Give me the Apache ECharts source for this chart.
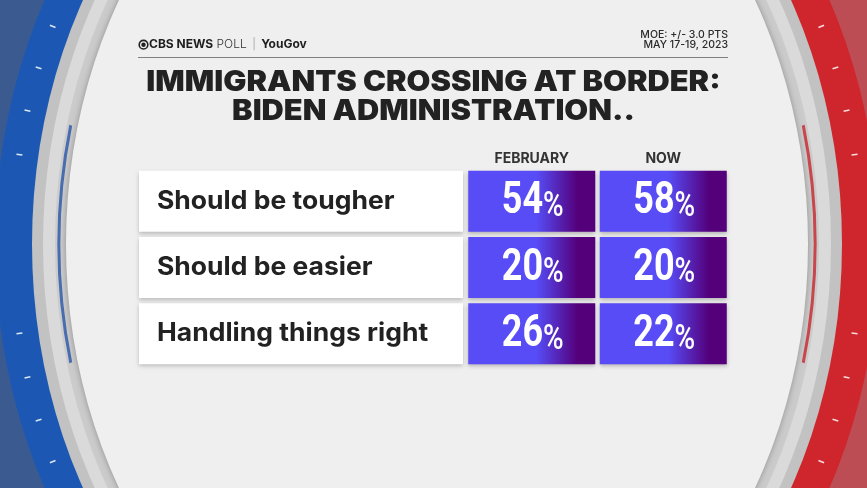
<!DOCTYPE html>
<html>
<head>
<meta charset="utf-8">
<script src="https://cdn.jsdelivr.net/npm/echarts@6/dist/echarts.min.js"></script>
<style>
  html, body { margin: 0; padding: 0; background: #efefef; }
  #chart { width: 867px; height: 488px; }
</style>
</head>
<body>
<div id="chart"></div>
<script>
// poll rows and columns
const rowLabels = ['Should be tougher', 'Should be easier', 'Handling things right']
const columnLabels = ['FEBRUARY', 'NOW']
const februaryValues = [54, 20, 26]
const nowValues = [58, 20, 22]

const chart = echarts.init(document.getElementById('chart'))

// background ring (the CBS studio frame)
const cx = 437
const cy = 244

function oval (r, ratio, style) {
  return {
    type: 'circle',
    x: cx,
    y: cy,
    scaleY: ratio,
    shape: { cx: 0, cy: 0, r: r },
    style: style,
    silent: true
  }
}

function splitFill (left, right) {
  return {
    type: 'linear', x: 0, y: 0, x2: 1, y2: 0,
    colorStops: [
      { offset: 0, color: left }, { offset: 0.5, color: left },
      { offset: 0.5, color: right }, { offset: 1, color: right }
    ]
  }
}

const ticks = []
const tickAngles = [-25, -20, -15, -10, 10, 15, 20, 25]
tickAngles.forEach(function (deg) {
  [180, 0].forEach(function (base) {
    const t = (base + (base === 180 ? -deg : deg)) * Math.PI / 180
    const a = 424
    const b = 515
    const x = cx + a * Math.cos(t)
    const y = cy + b * Math.sin(t)
    const nx = Math.cos(t)
    const ny = Math.sin(t) * a / b
    const len = Math.sqrt(nx * nx + ny * ny)
    ticks.push({
      type: 'line',
      silent: true,
      shape: { x1: x - 3 * nx / len, y1: y - 3 * ny / len, x2: x + 3 * nx / len, y2: y + 3 * ny / len },
      style: { stroke: 'rgba(255,255,255,0.85)', lineWidth: 1.5 }
    })
  })
})

const background = [
  {
    type: 'rect',
    silent: true,
    shape: { x: 0, y: 0, width: 867, height: 488 },
    style: { fill: splitFill('#3a5a90', '#bd4d54') }
  },
  oval(442, 1.2, { fill: splitFill('#1c58b3', '#cf252c') }),
  oval(405, 1.24, { fill: '#c2c2c2' }),
  oval(394, 1.25, { fill: '#dadada' }),
  oval(382, 1.26, { fill: '#cbcbcb' }),
  {
    type: 'arc',
    x: cx,
    y: cy,
    scaleY: 1.27,
    silent: true,
    shape: { cx: 0, cy: 0, r: 378, startAngle: Math.PI - 0.25, endAngle: Math.PI + 0.25 },
    style: { stroke: '#4a6db0', lineWidth: 3, fill: null }
  },
  {
    type: 'arc',
    x: cx,
    y: cy,
    scaleY: 1.27,
    silent: true,
    shape: { cx: 0, cy: 0, r: 378, startAngle: -0.25, endAngle: 0.25 },
    style: { stroke: '#c9474d', lineWidth: 3, fill: null }
  },
  oval(371, 1.277, { fill: '#efefef', shadowBlur: 6, shadowColor: 'rgba(0,0,0,0.3)' })
].concat(ticks)

// header: logo, rule, MOE, headline
const header = [
  {
    type: 'circle',
    silent: true,
    shape: { cx: 143.5, cy: 44.7, r: 4.3 },
    style: { fill: null, stroke: '#222', lineWidth: 1.6 }
  },
  {
    type: 'circle',
    silent: true,
    shape: { cx: 143.5, cy: 44.7, r: 2.2 },
    style: { fill: '#222' }
  },
  {
    type: 'text',
    silent: true,
    x: 149,
    y: 44.7,
    style: {
      text: '{a|CBS NEWS} {b|POLL} {c||} {a|YouGov}',
      verticalAlign: 'middle',
      font: '12px Inter',
      fill: '#222',
      rich: {
        a: { fontFamily: 'Inter', fontSize: 12, fontWeight: 'bold', fill: '#1e1e1e' },
        b: { fontFamily: 'Inter', fontSize: 12, fontWeight: 300, fill: '#333' },
        c: { fontFamily: 'Inter', fontSize: 11, fill: '#aaa', padding: [0, 2, 0, 2] }
      }
    }
  },
  {
    type: 'text',
    silent: true,
    x: 728,
    y: 40,
    style: {
      text: 'MOE: +/- 3.0 PTS\nMAY 17-19, 2023',
      align: 'right',
      verticalAlign: 'middle',
      font: '500 10.5px Inter',
      lineHeight: 9.5,
      fill: '#2a2a2a'
    }
  },
  {
    type: 'line',
    silent: true,
    shape: { x1: 138, y1: 57.5, x2: 728, y2: 57.5 },
    style: { stroke: '#808080', lineWidth: 1 }
  },
  {
    type: 'text',
    silent: true,
    x: 433.5,
    y: 68,
    scaleX: 1.1,
    style: {
      text: 'IMMIGRANTS CROSSING AT BORDER:\nBIDEN ADMINISTRATION..',
      align: 'center',
      verticalAlign: 'top',
      font: '900 28px Inter',
      lineHeight: 29,
      fill: '#222'
    }
  }
]

const cellFill = {
  type: 'linear', x: 0, y: 0, x2: 1, y2: 0,
  colorStops: [
    { offset: 0, color: '#574cf6' },
    { offset: 0.54, color: '#574cf6' },
    { offset: 0.86, color: '#54007b' },
    { offset: 1, color: '#54007b' }
  ]
}

function renderCell (params, api) {
  const center = api.coord([api.value(0), api.value(1)])
  const size = api.size([1, 1])
  const w = size[0] - 4.5
  const h = size[1] - 5.3
  return {
    type: 'group',
    children: [{
      type: 'rect',
      shape: { x: center[0] - w / 2, y: center[1] - h / 2, width: w, height: h },
      style: { fill: cellFill, shadowBlur: 4, shadowOffsetY: 2, shadowColor: 'rgba(0,0,0,0.25)' }
    }, {
      type: 'text',
      x: center[0] + 1,
      y: center[1] + 1,
      scaleX: 0.8,
      style: {
        text: '{n|' + api.value(2) + '}{p|%}',
        align: 'center',
        verticalAlign: 'middle',
        rich: {
          n: { fontFamily: 'Roboto', fontWeight: 'bold', fontSize: 45, lineHeight: 45, fill: '#fff' },
          p: { fontFamily: 'Roboto', fontWeight: 500, fontSize: 35, lineHeight: 38, verticalAlign: 'bottom', fill: '#fff' }
        }
      }
    }]
  }
}

function renderLabel (params, api) {
  const y = api.coord([0, api.value(1)])[1]
  const h = api.size([1, 1])[1] - 5.3
  const right = params.coordSys.x - 3
  const left = right - 324
  return {
    type: 'group',
    children: [{
      type: 'rect',
      shape: { x: left, y: y - h / 2, width: right - left, height: h },
      style: { fill: '#fff', shadowBlur: 4, shadowOffsetY: 2, shadowColor: 'rgba(0,0,0,0.22)' }
    }, {
      type: 'text',
      x: left + 18,
      y: y,
      scaleX: 1.06,
      style: {
        text: rowLabels[api.value(1)],
        verticalAlign: 'middle',
        font: 'bold 25px Inter',
        fill: '#222'
      }
    }]
  }
}

chart.setOption({
  animation: false,
  backgroundColor: '#efefef',
  graphic: { elements: background.concat(header) },
  grid: { left: 466, right: 138, top: 168, bottom: 121 },
  xAxis: {
    type: 'category',
    position: 'top',
    data: columnLabels,
    axisLine: { show: false },
    axisTick: { show: false },
    axisLabel: { margin: 2, fontFamily: 'Inter', fontWeight: 'bold', fontSize: 14, color: '#333' }
  },
  yAxis: {
    type: 'category',
    inverse: true,
    data: rowLabels,
    axisLine: { show: false },
    axisTick: { show: false },
    axisLabel: { show: false },
    splitLine: { show: false }
  },
  series: [
    {
      type: 'custom',
      name: 'labels',
      renderItem: renderLabel,
      encode: { x: 0, y: 1 },
      data: rowLabels.map(function (name, i) { return [0, i] })
    },
    {
      type: 'custom',
      name: 'February',
      renderItem: renderCell,
      encode: { x: 0, y: 1 },
      data: februaryValues.map(function (v, i) { return [0, i, v] })
    },
    {
      type: 'custom',
      name: 'Now',
      renderItem: renderCell,
      encode: { x: 0, y: 1 },
      data: nowValues.map(function (v, i) { return [1, i, v] })
    }
  ]
})
</script>
</body>
</html>
